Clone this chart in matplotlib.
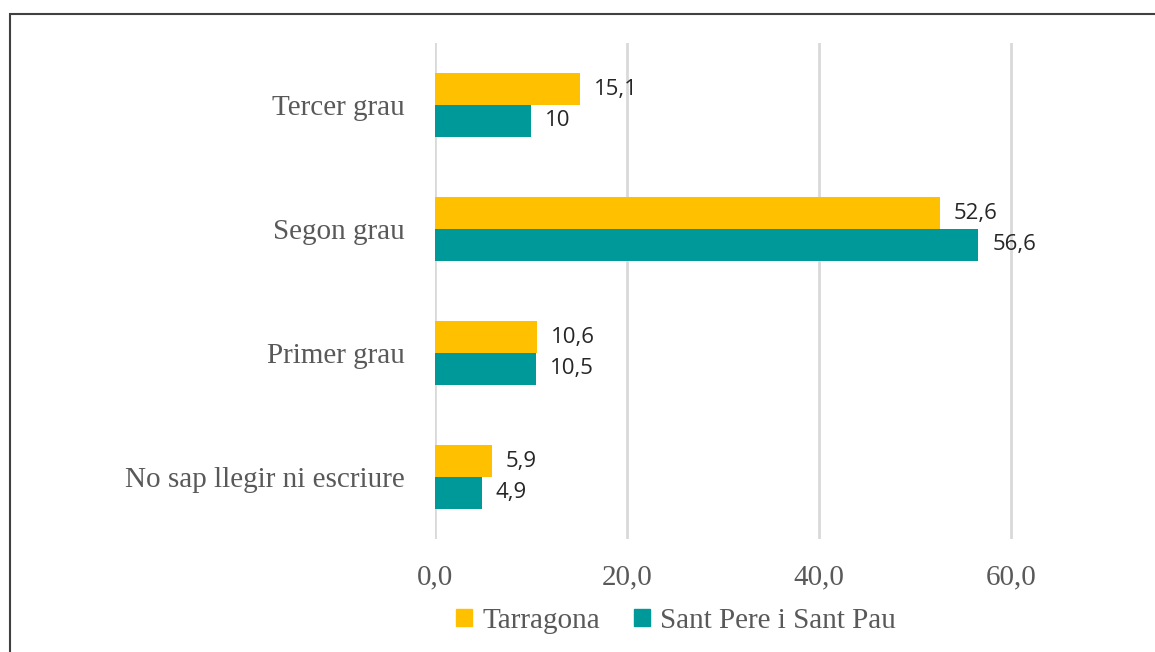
import matplotlib.pyplot as plt
from matplotlib.patches import Rectangle, Patch
from matplotlib.ticker import FuncFormatter

# data (bottom to top, as drawn)
categories = ['No sap llegir ni escriure', 'Primer grau', 'Segon grau', 'Tercer grau']
tarragona = [5.9, 10.6, 52.6, 15.1]
sant_pere = [4.9, 10.5, 56.6, 10]
series_names = ['Tarragona', 'Sant Pere i Sant Pau']
xticks = [0, 20, 40, 60]

yellow = '#FFC000'
teal = '#009999'
grey_txt = '#595959'
serif = 'Liberation Serif'

fig = plt.figure(figsize=(11.55, 6.52), dpi=100)
ax = fig.add_axes([435 / 1155, 1 - 539 / 652, 768 / 1155, 496 / 652])

# outer chart frame (cropped at right and bottom in the reference)
fig.patches.append(Rectangle((10 / 1155, -0.05), 1.2, 1 - 14 / 652 + 0.05,
                             transform=fig.transFigure, fill=False,
                             edgecolor='#404040', linewidth=1.5))

pos = list(range(len(categories)))
h = 0.258
b1 = ax.barh([p + h / 2 for p in pos], tarragona, height=h, color=yellow, zorder=2)
b2 = ax.barh([p - h / 2 for p in pos], sant_pere, height=h, color=teal, zorder=2)

ax.bar_label(b1, labels=[str(v).replace('.', ',') for v in tarragona], padding=10,
             fontsize=16, family='Open Sans', color='#262626')
ax.bar_label(b2, labels=[str(v).replace('.', ',') for v in sant_pere], padding=10,
             fontsize=16, family='Open Sans', color='#262626')

ax.set_xlim(0, 80)
ax.set_ylim(-0.5, 3.5)
ax.set_xticks(xticks)
ax.xaxis.set_major_formatter(FuncFormatter(lambda x, _: f'{x:.1f}'.replace('.', ',')))
ax.set_yticks(pos)
ax.set_yticklabels(categories)
for lab in ax.get_yticklabels():
    lab.set_family(serif)
    lab.set_fontsize(21)
    lab.set_color(grey_txt)
for lab in ax.get_xticklabels():
    lab.set_family(serif)
    lab.set_fontsize(21)
    lab.set_color(grey_txt)
ax.tick_params(axis='y', length=0, pad=22)
ax.tick_params(axis='x', length=0, pad=18)

ax.grid(axis='x', color='#D9D9D9', linewidth=2)
ax.set_axisbelow(True)
for s in ax.spines.values():
    s.set_visible(False)

handles = [Patch(color=yellow), Patch(color=teal)]
fig.legend(handles, series_names, loc='center', bbox_to_anchor=(676 / 1155, 1 - 621 / 652),
           ncol=2, frameon=False, handlelength=0.55, handleheight=0.55, handletextpad=0.35,
           columnspacing=1.15, prop={'family': serif, 'size': 21}, labelcolor=grey_txt)

fig.savefig('out.png', dpi=100)
